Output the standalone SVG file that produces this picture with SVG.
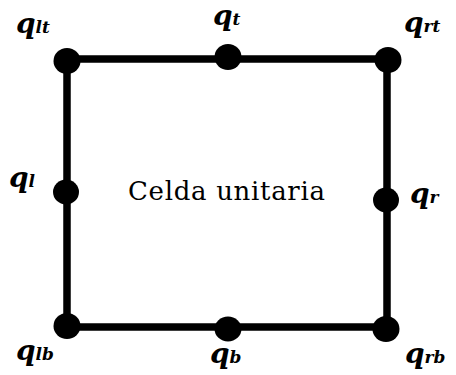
<svg xmlns="http://www.w3.org/2000/svg" width="456" height="375" viewBox="0 0 456 375">
<style>
.edge{stroke:#000;stroke-width:7.5;fill:none;stroke-linecap:square}
.dot{fill:#000}
.lbl{font-family:"DejaVu Serif","Liberation Serif",serif;font-weight:bold;font-style:italic;font-size:28px;fill:#000}
.sub{font-size:17px}
.title{font-family:"DejaVu Serif","Liberation Serif",serif;font-size:26px;fill:#000}
</style>
<rect width="456" height="375" fill="#fff"/>
<g id="connectors">
<path class="edge" d="M67,59 H387 V327 H67 Z"/>
</g>
<g id="q_lt"><ellipse class="dot" cx="67" cy="61" rx="13.5" ry="13"/><text class="lbl" x="16" y="33">q<tspan class="sub">lt</tspan></text></g>
<g id="q_t"><ellipse class="dot" cx="228" cy="57" rx="13.5" ry="13"/><text class="lbl" x="213" y="25">q<tspan class="sub">t</tspan></text></g>
<g id="q_rt"><ellipse class="dot" cx="388" cy="60" rx="13.5" ry="13"/><text class="lbl" x="404" y="32">q<tspan class="sub">rt</tspan></text></g>
<g id="q_l"><ellipse class="dot" cx="66" cy="192" rx="13" ry="12.5"/><text class="lbl" x="9" y="187">q<tspan class="sub">l</tspan></text></g>
<g id="q_r"><ellipse class="dot" cx="386" cy="200" rx="13" ry="12.5"/><text class="lbl" x="410" y="203">q<tspan class="sub">r</tspan></text></g>
<g id="q_lb"><ellipse class="dot" cx="67" cy="326" rx="13.5" ry="13"/><text class="lbl" x="16" y="360">q<tspan class="sub">lb</tspan></text></g>
<g id="q_b"><ellipse class="dot" cx="228" cy="329" rx="13.5" ry="12.5"/><text class="lbl" x="210" y="363">q<tspan class="sub">b</tspan></text></g>
<g id="q_rb"><ellipse class="dot" cx="386" cy="329" rx="13.5" ry="13"/><text class="lbl" x="405" y="363">q<tspan class="sub">rb</tspan></text></g>
<text class="title" x="128" y="200" textLength="197">Celda unitaria</text>
</svg>
